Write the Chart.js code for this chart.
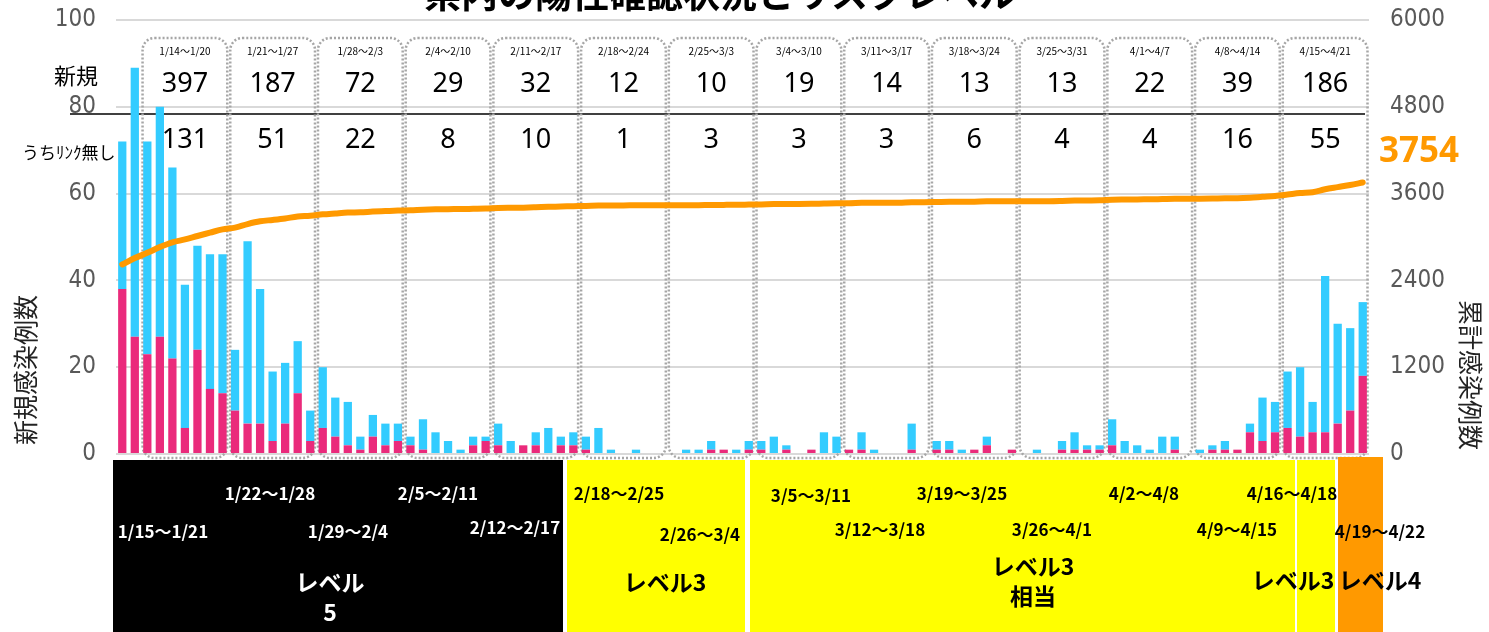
<!DOCTYPE html>
<html>
<head>
<meta charset="utf-8">
<script src="https://cdn.jsdelivr.net/npm/chart.js@4.4.0/dist/chart.umd.min.js"></script>
<style>
  html, body { margin: 0; padding: 0; background: #fff; }
  #wrap { position: relative; width: 1489px; height: 632px; overflow: hidden; }
</style>
</head>
<body>
<div id="wrap"><canvas id="chart" width="1489" height="632"></canvas></div>
<script>
// daily dates (1/12 - 4/21)
const days = [
  '1/12','1/13','1/14','1/15','1/16','1/17','1/18','1/19','1/20','1/21',
  '1/22','1/23','1/24','1/25','1/26','1/27','1/28','1/29','1/30','1/31',
  '2/1','2/2','2/3','2/4','2/5','2/6','2/7','2/8','2/9','2/10',
  '2/11','2/12','2/13','2/14','2/15','2/16','2/17','2/18','2/19','2/20',
  '2/21','2/22','2/23','2/24','2/25','2/26','2/27','2/28','3/1','3/2',
  '3/3','3/4','3/5','3/6','3/7','3/8','3/9','3/10','3/11','3/12',
  '3/13','3/14','3/15','3/16','3/17','3/18','3/19','3/20','3/21','3/22',
  '3/23','3/24','3/25','3/26','3/27','3/28','3/29','3/30','3/31','4/1',
  '4/2','4/3','4/4','4/5','4/6','4/7','4/8','4/9','4/10','4/11',
  '4/12','4/13','4/14','4/15','4/16','4/17','4/18','4/19','4/20','4/21'
];

// new cases without known link (pink, bottom of stack)
const unlinked = [
  38,27,23,27,22,6,24,15,14,10,
  7,7,3,7,14,3,6,4,2,1,
  4,2,3,2,1,0,0,0,2,3,
  2,0,2,2,0,2,2,1,0,0,
  0,0,0,0,0,0,0,1,1,0,
  1,1,0,1,0,1,0,0,1,1,
  0,0,0,1,0,1,1,0,1,2,
  0,1,0,0,0,1,1,1,1,2,
  0,0,0,0,1,0,0,1,1,1,
  5,3,5,6,4,5,5,7,10,18
];

// other new cases (cyan, top of stack)
const linked = [
  34,62,49,53,44,33,24,31,32,14,
  42,31,16,14,12,7,14,9,10,3,
  5,5,4,2,7,5,3,1,2,1,
  5,3,0,3,6,2,3,3,6,1,
  0,1,0,0,0,1,1,2,0,1,
  2,2,4,1,0,0,5,4,0,4,
  1,0,0,6,0,2,2,1,0,2,
  0,0,0,1,0,2,4,1,1,6,
  3,2,1,4,3,0,1,1,2,0,
  2,10,7,13,16,7,36,23,19,17
];

// cumulative cases (right axis)
const cumulative = [
  2620,2709,2781,2861,2927,2966,3014,3060,3106,3130,
  3179,3217,3236,3257,3283,3293,3313,3326,3338,3342,
  3351,3358,3365,3369,3377,3382,3385,3386,3390,3394,
  3401,3404,3406,3411,3417,3421,3426,3430,3436,3437,
  3437,3438,3438,3438,3438,3439,3440,3443,3444,3445,
  3448,3451,3455,3457,3457,3458,3463,3467,3468,3473,
  3474,3474,3474,3481,3481,3484,3487,3488,3489,3493,
  3493,3494,3494,3495,3495,3498,3503,3505,3507,3515,
  3518,3520,3521,3525,3529,3529,3530,3532,3535,3536,
  3543,3556,3568,3587,3607,3619,3660,3690,3719,3754
];

// weekly summary boxes
const weekLabels = ['1/14〜1/20','1/21〜1/27','1/28〜2/3','2/4〜2/10','2/11〜2/17','2/18〜2/24','2/25〜3/3',
                    '3/4〜3/10','3/11〜3/17','3/18〜3/24','3/25〜3/31','4/1〜4/7','4/8〜4/14','4/15〜4/21'];
const weekNew = [397,187,72,29,32,12,10,19,14,13,13,22,39,186];
const weekUnlinked = [131,51,22,8,10,1,3,3,3,6,4,4,16,55];
const weekStartIndex = 2; // 1/14

// risk level bands under the chart
const levelNames = ['レベル\n5', 'レベル3', 'レベル3\n相当', 'レベル3', 'レベル4'];
const periodLabels = ['1/15〜1/21','1/22〜1/28','1/29〜2/4','2/5〜2/11','2/12〜2/17',
                      '2/18〜2/25','2/26〜3/4','3/5〜3/11','3/12〜3/18','3/19〜3/25',
                      '3/26〜4/1','4/2〜4/8','4/9〜4/15','4/16〜4/18','4/19〜4/22'];

// layout for the bands (pixels)
const bandBoxes = [
  { x0: 113, x1: 563, top: 460, bg: '#000000', fg: '#ffffff', tx: 330, ty: 582 },
  { x0: 567, x1: 745, top: 460, bg: '#ffff00', fg: '#000000', tx: 665, ty: 582 },
  { x0: 750, x1: 1295, top: 460, bg: '#ffff00', fg: '#000000', tx: 1033, ty: 566 },
  { x0: 1297, x1: 1335, top: 460, bg: '#ffff00', fg: '#000000', tx: 1293, ty: 580 },
  { x0: 1338, x1: 1383, top: 457, bg: '#ff9900', fg: '#000000', tx: 1380, ty: 580 }
];
const periodPos = [
  [163,532,'#fff'],[270,494,'#fff'],[348,532,'#fff'],[438,494,'#fff'],[515,528,'#fff'],
  [619,494,'#000'],[700,535,'#000'],[811,496,'#000'],[880,530,'#000'],[962,494,'#000'],
  [1052,530,'#000'],[1144,494,'#000'],[1237,530,'#000'],[1292,494,'#000'],[1380,532,'#000']
];

const cyan = '#33ccff';
const pink = '#ea2a7b';
const orange = '#ff9900';
const jp = '"Noto Sans CJK JP", "Noto Sans", sans-serif';
const narrow = '"Liberation Sans Narrow", "DejaVu Sans Condensed", "Liberation Sans", sans-serif';

const overlay = {
  id: 'overlay',
  beforeDatasetsDraw(chart) {
    const { ctx, scales: { x } } = chart;
    const half = (x.getPixelForValue(1) - x.getPixelForValue(0)) / 2;
    ctx.save();

    // black separator under "新規" row
    ctx.strokeStyle = '#000';
    ctx.lineWidth = 1.5;
    ctx.beginPath();
    ctx.moveTo(70, 114);
    ctx.lineTo(1365, 114);
    ctx.stroke();

    ctx.fillStyle = '#000';
    ctx.textAlign = 'center';
    ctx.textBaseline = 'middle';
    ctx.font = '22px ' + jp;
    ctx.fillText('新規', 76, 76);
    ctx.font = '17px ' + jp;
    ctx.textAlign = 'left';
    ctx.fillText('うちﾘﾝｸ無し', 22, 153);

    weekLabels.forEach((lab, i) => {
      const s = weekStartIndex + i * 7;
      const l = x.getPixelForValue(s) - half + 1.5;
      const r = x.getPixelForValue(s + 6) + half - 1.5;
      ctx.setLineDash([2, 2]);
      ctx.strokeStyle = '#a6a6a6';
      ctx.lineWidth = 2.5;
      ctx.beginPath();
      ctx.roundRect(l, 38, r - l, 420, 12);
      ctx.stroke();
      ctx.setLineDash([]);

      const cx = (l + r) / 2;
      ctx.fillStyle = '#000';
      ctx.textAlign = 'center';
      ctx.font = '10px ' + jp;
      ctx.fillText(lab, cx, 51);
      ctx.font = '27px "Noto Sans", sans-serif';
      ctx.fillText(weekNew[i], cx, 84);
      ctx.fillText(weekUnlinked[i], cx, 140);
    });
    ctx.restore();
  },
  afterDraw(chart) {
    const { ctx } = chart;
    ctx.save();

    // title (cut off at the top)
    ctx.fillStyle = '#000';
    ctx.textAlign = 'center';
    ctx.textBaseline = 'alphabetic';
    ctx.font = 'bold 37px ' + jp;
    ctx.fillText('県内の陽性確認状況とリスクレベル', 720, 8);

    // latest cumulative value
    ctx.fillStyle = orange;
    ctx.textAlign = 'left';
    ctx.font = 'bold 35px "Noto Sans", sans-serif';
    ctx.fillText(cumulative[cumulative.length - 1], 1379, 162);

    // axis titles
    ctx.fillStyle = '#222';
    ctx.textAlign = 'center';
    ctx.textBaseline = 'middle';
    ctx.font = '25px ' + jp;
    ctx.save();
    ctx.translate(25, 370);
    ctx.rotate(-Math.PI / 2);
    ctx.fillText('新規感染例数', 0, 0);
    ctx.restore();
    ctx.save();
    ctx.translate(1470, 375);
    ctx.rotate(Math.PI / 2);
    ctx.fillText('累計感染例数', 0, 0);
    ctx.restore();

    // level bands
    bandBoxes.forEach(b => {
      ctx.fillStyle = b.bg;
      ctx.fillRect(b.x0, b.top, b.x1 - b.x0, 632 - b.top);
    });
    ctx.font = 'bold 17px ' + jp;
    periodLabels.forEach((t, i) => {
      ctx.fillStyle = periodPos[i][2];
      ctx.fillText(t, periodPos[i][0], periodPos[i][1]);
    });
    ctx.font = 'bold 23px ' + jp;
    levelNames.forEach((t, i) => {
      const b = bandBoxes[i];
      ctx.fillStyle = b.fg;
      t.split('\n').forEach((line, k) => ctx.fillText(line, b.tx, b.ty + k * 30));
    });
    ctx.restore();
  }
};

new Chart('chart', {
  type: 'bar',
  data: {
    labels: days,
    datasets: [
      {
        label: 'うちリンク無し',
        data: unlinked,
        backgroundColor: pink,
        stack: 's',
        yAxisID: 'y',
        order: 1,
        categoryPercentage: 1,
        barPercentage: 0.66
      },
      {
        label: '新規',
        data: linked,
        backgroundColor: cyan,
        stack: 's',
        yAxisID: 'y',
        order: 1,
        categoryPercentage: 1,
        barPercentage: 0.66
      },
      {
        type: 'line',
        label: '累計',
        data: cumulative,
        borderColor: orange,
        borderWidth: 6,
        pointRadius: 0,
        cubicInterpolationMode: 'monotone',
        borderCapStyle: 'round',
        yAxisID: 'y2',
        order: 0
      }
    ]
  },
  options: {
    responsive: false,
    animation: false,
    layout: { padding: { top: 20, bottom: 178, left: 0, right: 0 } },
    plugins: { legend: { display: false }, tooltip: { enabled: false } },
    scales: {
      x: { display: false, stacked: true },
      y: {
        position: 'left',
        stacked: true,
        min: 0,
        max: 100,
        ticks: { stepSize: 20, padding: 20, color: '#595959', font: { size: 24, family: narrow } },
        grid: { color: '#d9d9d9', lineWidth: 2, drawTicks: false },
        border: { display: false },
        afterFit(scale) { scale.width = 116; scale.paddingTop = 0; scale.paddingBottom = 0; }
      },
      y2: {
        position: 'right',
        min: 0,
        max: 6000,
        ticks: {
          stepSize: 1200, padding: 21, color: '#595959', font: { size: 24, family: narrow },
          callback: (v) => String(v)
        },
        grid: { display: false, drawTicks: false },
        border: { display: false },
        afterFit(scale) { scale.width = 120; scale.paddingTop = 0; scale.paddingBottom = 0; }
      }
    }
  },
  plugins: [overlay]
});
</script>
</body>
</html>
